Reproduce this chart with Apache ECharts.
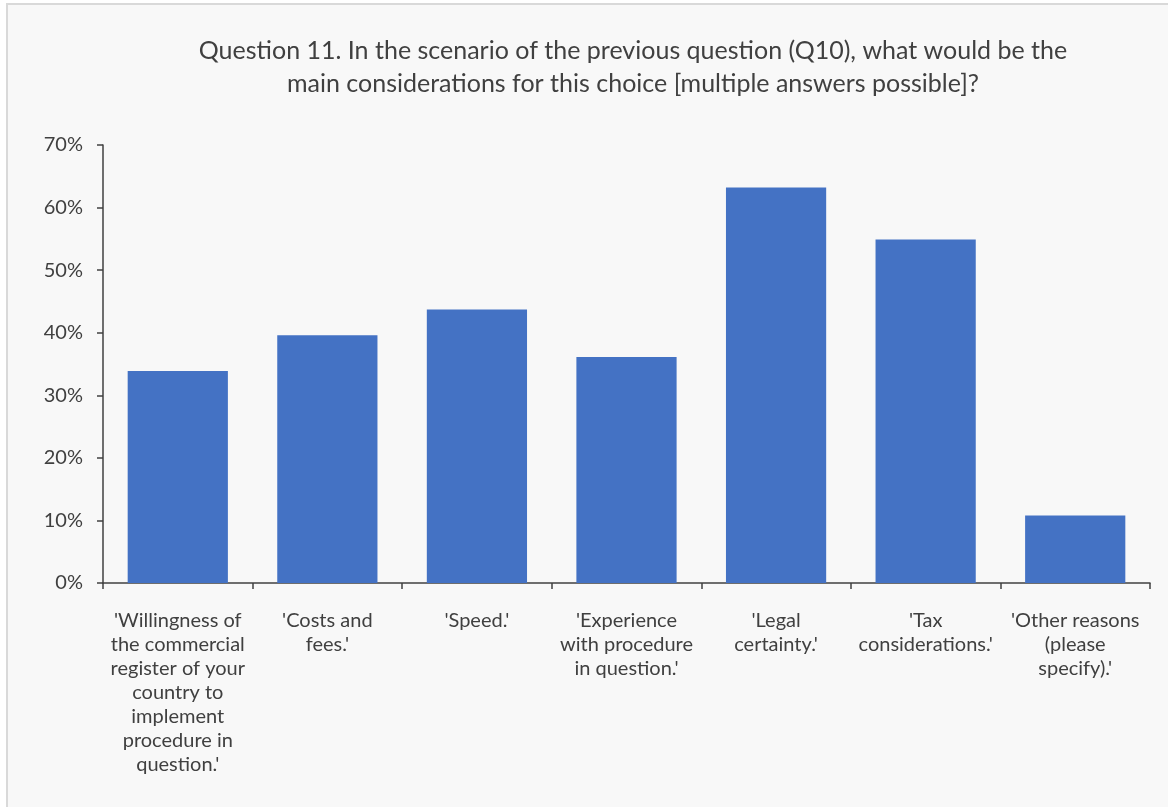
<!DOCTYPE html>
<html><head><meta charset="utf-8">
<script src="https://cdn.jsdelivr.net/npm/echarts@6/dist/echarts.min.js"></script>
<style>html,body{margin:0;padding:0;background:#fff}#c{width:1168px;height:807px}</style>
</head><body><div id="c"></div>
<script>
const categories = [
  "'Willingness of\nthe commercial\nregister of your\ncountry to\nimplement\nprocedure in\nquestion.'",
  "'Costs and\nfees.'",
  "'Speed.'",
  "'Experience\nwith procedure\nin question.'",
  "'Legal\ncertainty.'",
  "'Tax\nconsiderations.'",
  "'Other reasons\n(please\nspecify).'"
];
const values = [33.9, 39.6, 43.7, 36.1, 63.2, 54.9, 10.8];
const titleText = "Question 11. In the scenario of the previous question (Q10), what would be the\nmain considerations for this choice [multiple answers possible]?";

const font = "Lato, 'Open Sans', sans-serif";
const chart = echarts.init(document.getElementById('c'));
chart.setOption({
  backgroundColor: '#ffffff',
  animation: false,
  graphic: [{
    type: 'rect', z: -10, silent: true,
    shape: {x: 7, y: 4, width: 1200, height: 850},
    style: {fill: '#f8f8f8', stroke: '#d9d9d9', lineWidth: 2}
  }],
  title: {
    text: titleText, left: 628, top: 29, textAlign: 'center',
    textStyle: {fontFamily: font, fontSize: 25, fontWeight: 'normal', color: '#404040', lineHeight: 33}
  },
  grid: {left: 103, top: 145, right: 18, bottom: 224},
  xAxis: {
    type: 'category', data: categories,
    axisLine: {lineStyle: {color: '#404040', width: 1.5}},
    axisTick: {show: true, length: 6, alignWithLabel: false, lineStyle: {color: '#404040', width: 1.5}},
    axisLabel: {interval: 0, margin: 26, fontFamily: font, fontSize: 20, color: '#404040', lineHeight: 24, align: 'center'}
  },
  yAxis: {
    type: 'value', min: 0, max: 70, interval: 10,
    axisLine: {show: true, lineStyle: {color: '#404040', width: 1.5}},
    axisTick: {show: true, length: 6, lineStyle: {color: '#404040', width: 1.5}},
    splitLine: {show: false},
    axisLabel: {formatter: '{value}%', margin: 20, fontFamily: font, fontSize: 20, color: '#404040'}
  },
  series: [{
    type: 'bar', data: values, barCategoryGap: '33%',
    itemStyle: {color: '#4472c4'}
  }]
});
</script></body></html>
